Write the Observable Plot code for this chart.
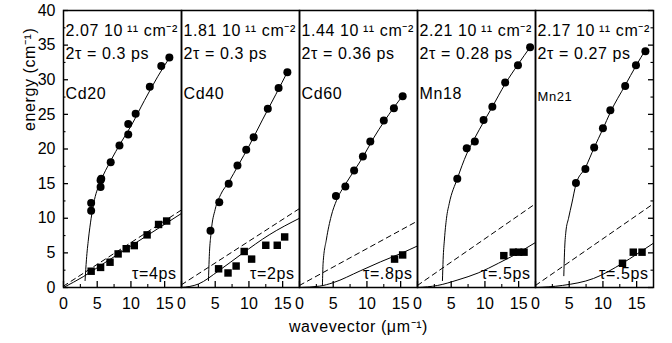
<!DOCTYPE html>
<html><head><meta charset="utf-8">
<script src="https://cdn.jsdelivr.net/npm/d3@7"></script>
<script src="https://cdn.jsdelivr.net/npm/@observablehq/plot@0.6"></script>
<style>body{margin:0;background:#fff} g[aria-label="text"] text{letter-spacing:0.6px}</style>
</head><body><div id="chart"></div>
<script>
const panels = ["Cd20", "Cd40", "Cd60", "Mn18", "Mn21"];
const densities = ["2.07", "1.81", "1.44", "2.21", "2.17"];
const twoTau = ["0.3", "0.3", "0.36", "0.28", "0.27"];
const tauLabels = ["τ=4ps", "τ=2ps", "τ=.8ps", "τ=.5ps", "τ=.5ps"];

const xTicks = [0, 5, 10, 15];
const xMinor = [2.5, 7.5, 12.5];
const yTicks = [0, 5, 10, 15, 20, 25, 30, 35, 40];
const yMinor = [2.5, 7.5, 12.5, 17.5, 22.5, 27.5, 32.5, 37.5];

// measured points: upper branch (circles)
const circleK = [
  [4.1, 4.1, 5.5, 5.5, 5.6, 7.0, 8.3, 9.6, 9.6, 10.7, 12.8, 14.5, 15.7],
  [4.3, 5.6, 7.0, 8.3, 9.6, 10.7, 12.8, 14.4, 15.7],
  [5.4, 6.8, 8.1, 9.4, 10.5, 12.5, 14.0, 15.3],
  [5.9, 7.3, 8.5, 9.8, 11.1, 13.0, 14.9, 16.7],
  [6.0, 7.4, 8.7, 10.0, 11.1, 13.3, 14.9, 16.3]
];
const circleE = [
  [11.1, 12.2, 14.5, 15.5, 15.7, 18.1, 20.5, 22.1, 23.6, 25.1, 29.0, 32.0, 33.2],
  [8.2, 12.3, 15.0, 17.6, 19.9, 21.7, 25.8, 28.8, 31.1],
  [13.2, 14.6, 16.9, 18.9, 21.1, 24.1, 25.9, 27.6],
  [15.7, 20.1, 21.1, 24.2, 26.1, 29.6, 32.1, 34.7],
  [15.1, 17.1, 20.2, 23.0, 25.6, 29.1, 32.1, 34.1]
];
// measured points: lower branch (squares)
const squareK = [
  [4.1, 5.5, 6.9, 8.1, 9.3, 10.5, 12.4, 14.1, 15.3],
  [5.5, 6.9, 8.1, 9.3, 10.4, 12.5, 14.2, 15.3],
  [14.1, 15.3],
  [12.8, 14.2, 15.0, 15.8],
  [12.9, 14.5, 15.8]
];
const squareE = [
  [2.35, 2.9, 3.65, 4.85, 5.6, 6.05, 7.6, 9.1, 9.6],
  [2.7, 2.1, 3.1, 5.2, 4.1, 6.1, 6.1, 7.3],
  [4.1, 4.7],
  [4.6, 5.1, 5.1, 5.1],
  [3.5, 5.1, 5.1]
];
// fitted curves
const upperFitK = [
  [3.2, 3.4, 3.7, 4.1, 4.6, 5.5, 7.0, 8.5, 10.0, 12.0, 14.0, 15.8],
  [4.0, 4.1, 4.4, 5.0, 5.8, 7.0, 8.5, 10.0, 12.0, 14.0, 15.8],
  [3.4, 3.5, 4.0, 4.7, 5.5, 6.8, 8.2, 9.5, 11.0, 12.5, 14.0, 15.4],
  [3.7, 3.8, 4.0, 4.3, 4.7, 5.9, 7.3, 8.5, 9.8, 11.1, 13.0, 14.9, 16.7],
  [4.2, 4.3, 4.5, 4.9, 5.4, 6.0, 7.4, 8.7, 10.0, 11.1, 13.3, 14.9, 16.3]
];
const upperFitE = [
  [1.0, 4.0, 7.0, 10.0, 12.7, 15.3, 18.3, 20.9, 23.3, 27.0, 30.5, 33.3],
  [1.0, 4.0, 8.0, 11.3, 13.4, 15.2, 17.8, 20.4, 24.2, 27.9, 31.3],
  [0.3, 3.5, 7.0, 10.3, 12.6, 14.9, 17.0, 19.0, 21.6, 23.9, 26.0, 27.8],
  [1.0, 4.0, 7.0, 10.0, 12.1, 15.7, 19.3, 21.6, 23.9, 26.1, 29.4, 32.2, 34.7],
  [1.7, 5.0, 8.0, 10.0, 12.2, 14.9, 17.3, 20.2, 22.9, 25.3, 29.2, 32.0, 34.3]
];
const lowerFitK = [
  [0, 3, 6, 10, 14, 17.5],
  [0, 2.5, 5.5, 9, 13, 17.5],
  [0, 3, 5, 9, 12, 15, 17.5],
  [0, 3, 6, 9, 12, 14, 17.5],
  [0, 4, 8.6, 12.9, 15, 17.5]
];
const lowerFitE = [
  [0, 1.6, 3.5, 6.0, 8.5, 10.7],
  [0, 0.5, 2.4, 4.9, 7.6, 10.0],
  [0, 0.2, 0.7, 2.4, 3.7, 4.9, 6.0],
  [0, 0.3, 1.1, 2.1, 3.5, 4.5, 6.5],
  [0, 0.3, 1.3, 3.5, 4.8, 6.4]
];
const dashK = [[0, 17.5], [0, 17.5], [0, 17.5], [0, 17.5], [0, 17.5]];
const dashE = [[0.2, 11.2], [0.4, 11.4], [0.3, 9.6], [0.3, 12.1], [0.3, 12.1]];

function rows(K, E) {
  return panels.flatMap((p, i) => K[i].map((k, j) => ({panel: p, k, e: E[i][j]})));
}
const circles = rows(circleK, circleE);
const squares = rows(squareK, squareE);
const upperFit = rows(upperFitK, upperFitE);
const lowerFit = rows(lowerFitK, lowerFitE);
const dashed = rows(dashK, dashE);
const info = panels.map((p, i) => ({
  panel: p,
  l1: `${densities[i]} 10\u2009¹¹ cm⁻²`,
  l2: `2τ = ${twoTau[i]} ps`,
  tau: tauLabels[i]
}));

const font = "Liberation Sans, Arial, Helvetica, sans-serif";
const chart = Plot.plot({
  width: 672, height: 343,
  marginTop: 10, marginBottom: 56, marginLeft: 62, marginRight: 18,
  style: {fontFamily: font, fontSize: "16px", color: "#000", background: "#fff"},
  fx: {domain: panels, padding: 0, axis: null},
  x: {domain: [0, 17.5]},
  y: {domain: [0, 40]},
  marks: [
    Plot.axisX({ticks: xTicks, tickSize: 0, tickPadding: 10, fontSize: 16, label: null}),
    Plot.axisY({ticks: yTicks, tickSize: 0, tickPadding: 8, fontSize: 16, label: null}),
    Plot.tickX(xTicks, {x: d => d, insetTop: 271, stroke: "#000", strokeWidth: 1.3}),
    Plot.tickX(xMinor, {x: d => d, insetTop: 274, stroke: "#000", strokeWidth: 1.1}),
    Plot.tickY(yTicks.map(v => ({v, p: "Cd20"})), {y: "v", fx: "p", insetRight: 113, stroke: "#000", strokeWidth: 1.3}),
    Plot.tickY(yMinor.map(v => ({v, p: "Cd20"})), {y: "v", fx: "p", insetRight: 115.5, stroke: "#000", strokeWidth: 1.1}),
    Plot.tickY(yTicks.map(v => ({v, p: "Mn21"})), {y: "v", fx: "p", insetLeft: 113, stroke: "#000", strokeWidth: 1.3}),
    Plot.tickY(yMinor.map(v => ({v, p: "Mn21"})), {y: "v", fx: "p", insetLeft: 115.5, stroke: "#000", strokeWidth: 1.1}),
    Plot.line(dashed, {x: "k", y: "e", fx: "panel", stroke: "#000", strokeWidth: 1, strokeDasharray: "5,4"}),
    Plot.line(lowerFit, {x: "k", y: "e", fx: "panel", stroke: "#000", strokeWidth: 1, curve: "monotone-x"}),
    Plot.line(upperFit, {x: "k", y: "e", fx: "panel", stroke: "#000", strokeWidth: 1, curve: "monotone-x"}),
    Plot.dot(circles, {x: "k", y: "e", fx: "panel", r: 4, fill: "#000", stroke: null}),
    Plot.dot(squares, {x: "k", y: "e", fx: "panel", symbol: "square", r: 4.2, fill: "#000", stroke: null}),
    Plot.text(info, {fx: "panel", text: "l1", frameAnchor: "top-left", textAnchor: "start", lineAnchor: "middle", dx: 2, dy: 20, fontSize: 16}),
    Plot.text(info, {fx: "panel", text: "l2", frameAnchor: "top-left", textAnchor: "start", lineAnchor: "middle", dx: 2, dy: 43, fontSize: 16}),
    Plot.text(info.filter(d => d.panel !== "Mn21"), {fx: "panel", text: "panel", frameAnchor: "top-left", textAnchor: "start", lineAnchor: "middle", dx: 2, dy: 83, fontSize: 16}),
    Plot.text(info.filter(d => d.panel === "Mn21"), {fx: "panel", text: "panel", frameAnchor: "top-left", textAnchor: "start", lineAnchor: "middle", dx: 2, dy: 86, fontSize: 13}),
    Plot.text(info, {fx: "panel", text: "tau", frameAnchor: "bottom-right", textAnchor: "end", lineAnchor: "middle", dx: -5, dy: -14, fontSize: 16}),
    Plot.text(["wavevector (μm⁻¹)"], {fx: ["Cd60"], frameAnchor: "bottom", lineAnchor: "middle", dy: 39, fontSize: 16}),
    Plot.text(["energy (cm⁻¹)"], {fx: ["Cd20"], frameAnchor: "left", rotate: -90, lineAnchor: "middle", dx: -34, dy: -18, fontSize: 16}),
    Plot.frame({stroke: "#000", strokeWidth: 1.5})
  ]
});
document.getElementById("chart").append(chart);
</script>
</body></html>
